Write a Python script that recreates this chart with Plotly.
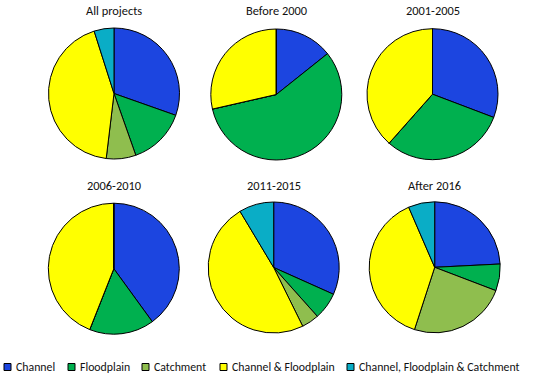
import plotly.graph_objects as go

categories = ["Channel", "Floodplain", "Catchment", "Channel & Floodplain",
              "Channel, Floodplain & Catchment"]
colors = ["#1C45E0", "#00B04F", "#8FBE4E", "#FFFF00", "#0AADC6"]

titles = ["All projects", "Before 2000", "2001-2005", "2006-2010", "2011-2015", "After 2016"]
all_projects = [30.4, 14.2, 7.3, 43.2, 4.9]
before_2000 = [1, 4, 0, 2, 0]
y2001_2005 = [4, 4, 0, 5, 0]
y2006_2010 = [10, 4, 0, 11, 0]
y2011_2015 = [31.7, 6.7, 4.3, 48.7, 8.6]
after_2016 = [24.2, 6.6, 24.2, 38.5, 6.5]
series = [all_projects, before_2000, y2001_2005, y2006_2010, y2011_2015, after_2016]

W, H = 550, 376


def px(x):
    return x / W


def py(y):
    return 1 - y / H


centers = [(114, 93.5), (276.3, 94.5), (432.5, 94.2),
           (113.8, 268.7), (273.7, 267.5), (434.7, 267.3)]
R = 65.5
title_y = [10.5, 10.5, 10.5, 185.5, 185.5, 185.5]
FONT = "Carlito, Lato, sans-serif"

fig = go.Figure()
annotations = []
for i, (vals, t) in enumerate(zip(series, titles)):
    cx, cy = centers[i]
    fig.add_trace(go.Pie(
        labels=categories, values=vals, sort=False, direction="clockwise",
        rotation=0, textinfo="none", showlegend=False,
        marker=dict(colors=colors, line=dict(color="#000000", width=1)),
        domain=dict(x=[px(cx - R), px(cx + R)], y=[py(cy + R), py(cy - R)]),
    ))
    annotations.append(dict(
        text=t, x=px(cx), y=py(title_y[i]), xref="paper", yref="paper",
        xanchor="center", yanchor="middle", showarrow=False,
        font=dict(family=FONT, size=12.4, color="#111111")))

# legend
sq_x = [4, 68, 142, 220, 347]
legend_y = 367
shapes = []
for k, cat in enumerate(categories):
    x0 = sq_x[k]
    shapes.append(dict(type="rect", xref="paper", yref="paper",
                       x0=px(x0), x1=px(x0 + 7),
                       y0=py(legend_y + 3.5), y1=py(legend_y - 3.5),
                       fillcolor=colors[k], line=dict(color="#000000", width=1)))
    annotations.append(dict(
        text=cat, x=px(x0 + 9.5), y=py(legend_y), xref="paper", yref="paper",
        xanchor="left", yanchor="middle", showarrow=False,
        font=dict(family=FONT, size=11.8, color="#111111")))

fig.update_layout(width=W, height=H, margin=dict(l=0, r=0, t=0, b=0),
                  paper_bgcolor="white", plot_bgcolor="white",
                  annotations=annotations, shapes=shapes)
fig.write_html("out.html", config={"displayModeBar": False},
               post_script="document.body.style.margin='0';document.body.style.overflow='hidden';")
